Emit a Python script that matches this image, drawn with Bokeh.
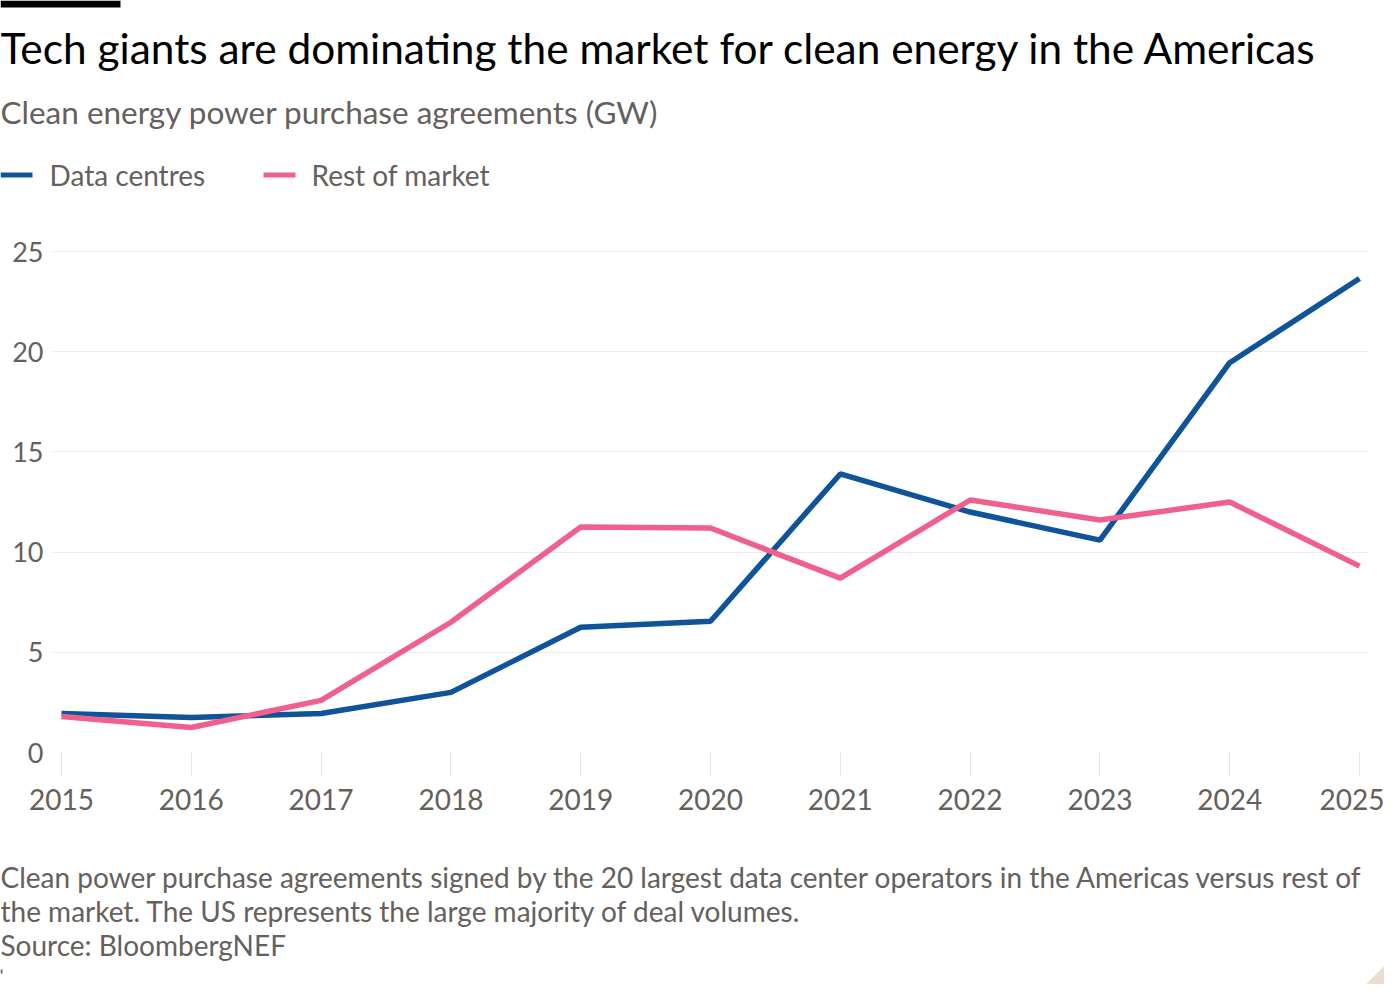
from bokeh.plotting import figure
from bokeh.layouts import column
from bokeh.models import FixedTicker, Range1d
from bokeh.core.properties import value
from bokeh.embed import file_html
from bokeh.resources import INLINE

# ---- data ----
years = [2015, 2016, 2017, 2018, 2019, 2020, 2021, 2022, 2023, 2024, 2025]
data_centres = [1.95, 1.75, 1.95, 3.0, 6.25, 6.55, 13.9, 12.0, 10.6, 19.45, 23.65]
rest_of_market = [1.8, 1.25, 2.6, 6.5, 11.25, 11.2, 8.7, 12.6, 11.6, 12.5, 9.3]
y_ticks = [0, 5, 10, 15, 20, 25]
x_ticks = years

title_text = "Tech giants are dominating the market for clean energy in the Americas"
subtitle_text = "Clean energy power purchase agreements (GW)"
series_names = ["Data centres", "Rest of market"]
footnote_lines = [
    "Clean power purchase agreements signed by the 20 largest data center operators in the Americas versus rest of",
    "the market. The US represents the large majority of deal volumes.",
    "Source: BloombergNEF",
]

BLUE = "#0f5499"
PINK = "#f0608f"
GREY = "#66605c"
FONT = "Lato"
W = 1384
TOP_H, MAIN_H = 230, 620
BOT_H = 984 - TOP_H - MAIN_H


def blank(height, y0):
    f = figure(width=W, height=height, x_range=Range1d(0, W),
               y_range=Range1d(y0 + height, y0),
               output_backend="svg", toolbar_location=None, min_border=0,
               frame_align=False)
    f.axis.visible = False
    f.grid.visible = False
    f.outline_line_color = None
    f.background_fill_color = "white"
    f.border_fill_color = "white"
    return f


def txt(f, s, x, y, size, color=GREY):
    f.text(x=[x], y=[y], text=[s], text_font=value(FONT), text_font_size=value(size),
           text_color=color, text_align="left", text_baseline="alphabetic")


# ---- header ----
top = blank(TOP_H, 0)
top.quad(left=[0], right=[120], top=[0], bottom=[7], fill_color="black", line_color=None)
txt(top, title_text, 0, 47, "42.4px", color="#000000")
txt(top, subtitle_text, 0, 111, "31.5px")
top.segment(x0=[0], x1=[32], y0=[174.5], y1=[174.5], line_color=BLUE, line_width=5)
top.segment(x0=[263], x1=[295], y0=[174.5], y1=[174.5], line_color=PINK, line_width=5)
txt(top, series_names[0], 49, 174.5, "28px")
txt(top, series_names[1], 311, 174.5, "28px")

# ---- chart ----
p = figure(
    width=W, height=MAIN_H,
    x_range=Range1d(2015 - 9 / 129.8, 2025 + 9 / 129.8),
    y_range=Range1d(0, 25.3),
    output_backend="svg", toolbar_location=None, frame_align=False,
    min_border_left=52, min_border_right=16, min_border_top=15, min_border_bottom=98,
)
p.outline_line_color = None
p.background_fill_color = "white"
p.border_fill_color = "white"

p.xgrid.grid_line_color = None
p.ygrid.grid_line_color = "#efebe7"
p.ygrid.grid_line_width = 1
p.ygrid.ticker = FixedTicker(ticks=y_ticks)

p.yaxis.ticker = FixedTicker(ticks=y_ticks)
p.yaxis.axis_line_color = None
p.yaxis.major_tick_line_color = None
p.yaxis.major_tick_out = 0
p.yaxis.major_tick_in = 0
p.yaxis.minor_tick_line_color = None
p.yaxis.minor_tick_out = 0
p.yaxis.major_label_standoff = 9
p.yaxis.major_label_text_font = FONT
p.yaxis.major_label_text_font_size = "27px"
p.yaxis.major_label_text_color = GREY

p.xaxis.ticker = FixedTicker(ticks=x_ticks)
p.xaxis.axis_line_color = None
p.xaxis.major_tick_line_color = "#e9e3de"
p.xaxis.major_tick_out = 24
p.xaxis.major_tick_in = 0
p.xaxis.minor_tick_line_color = None
p.xaxis.major_label_standoff = 12
p.xaxis.major_label_text_font = FONT
p.xaxis.major_label_text_font_size = "28px"
p.xaxis.major_label_text_color = GREY

p.line(years, data_centres, line_color=BLUE, line_width=5.5)
p.line(years, rest_of_market, line_color=PINK, line_width=5.5)

# ---- footer ----
bot = blank(BOT_H, TOP_H + MAIN_H)
for line, by in zip(footnote_lines, [876, 910, 944]):
    txt(bot, line, 0, by, "28px")
bot.quad(left=[0], right=[2], top=[969], bottom=[973], fill_color="#66605c", line_color=None)
bot.patch(x=[1365, 1384, 1384], y=[984, 965, 984], fill_color="#e8ddd3", line_color=None)

layout = column(top, p, bot, spacing=0)
open("out.html", "w").write(file_html(layout, INLINE))
